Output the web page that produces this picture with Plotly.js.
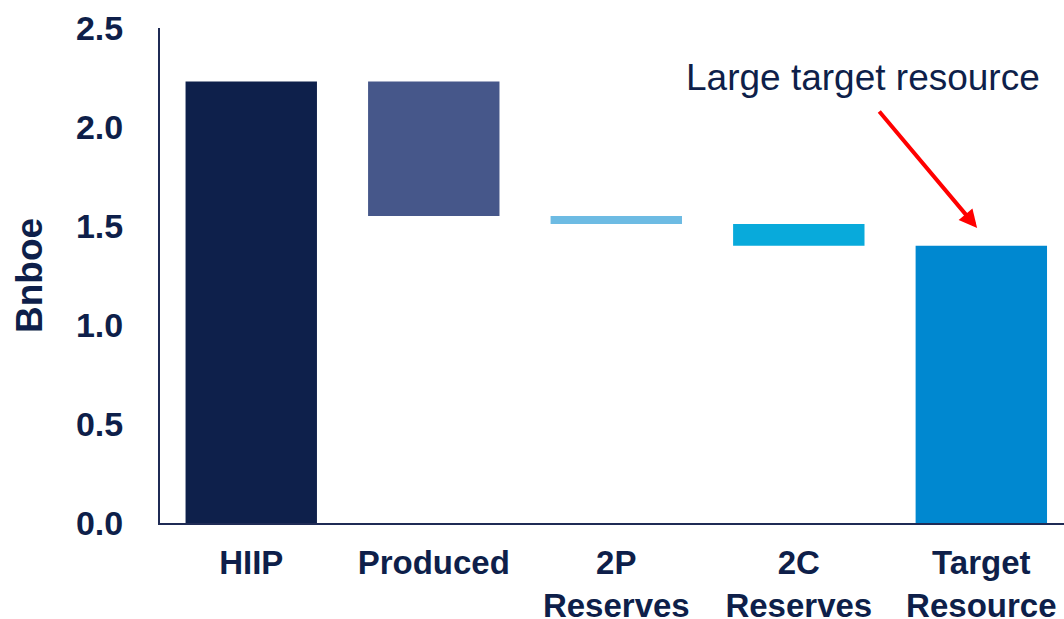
<!DOCTYPE html>
<html>
<head>
<meta charset="utf-8">
<script src="https://cdn.plot.ly/plotly-3.0.1.min.js"></script>
<style>html,body{margin:0;padding:0;background:#fff;}#chart{width:1064px;height:619px;}</style>
</head>
<body>
<div id="chart"></div>
<script>
const categories = ["HIIP", "Produced", "2P<br>Reserves", "2C<br>Reserves", "Target<br>Resource"];
const changes = [2.23, -0.68, -0.04, -0.11];
const totalValue = 1.40;
const barColors = ["#0E204B", "#46578A", "#6DBBE3", "#08AADB", "#0088D0"];

// build floating bars: first is a total, middle ones are decrements, last is a total
const bases = [];
const heights = [];
let running = 0;
changes.forEach((c, i) => {
  if (i === 0) { bases.push(0); heights.push(c); running = c; }
  else { const next = running + c; bases.push(next); heights.push(-c); running = next; }
});
bases.push(0); heights.push(totalValue);

const navy = "#0E1F4A";
const trace = {
  type: "bar",
  x: [0, 1, 2, 3, 4],
  y: heights,
  base: bases,
  width: 0.72,
  marker: { color: barColors },
  hoverinfo: "skip"
};

const layout = {
  width: 1064, height: 619,
  margin: { l: 160, r: 0, t: 28, b: 96 },
  paper_bgcolor: "#fff", plot_bgcolor: "#fff",
  showlegend: false,
  font: { family: "Liberation Sans, Arial, sans-serif", color: navy },
  xaxis: {
    range: [-0.5, 4.453],
    tickmode: "array", tickvals: [0, 1, 2, 3, 4], ticktext: categories,
    tickfont: { size: 33, color: navy, weight: "bold" },
    showline: true, linecolor: "#1F2B55", linewidth: 2,
    ticks: "outside", ticklen: 9, tickcolor: "rgba(0,0,0,0)",
    showgrid: false, zeroline: false, fixedrange: true
  },
  yaxis: {
    range: [0, 2.5], dtick: 0.5, tickformat: ".1f",
    tickfont: { size: 34, color: navy, weight: "bold" },
    showline: true, linecolor: "#1F2B55", linewidth: 2,
    ticks: "outside", ticklen: 28, tickcolor: "rgba(0,0,0,0)",
    showgrid: false, zeroline: false,
    title: { text: "Bnboe", font: { size: 37, color: navy, weight: "bold" }, standoff: 22 }
  },
  annotations: [
    { x: 3.977, y: 1.49, ax: 3.434, ay: 2.086, axref: "x", ayref: "y", xref: "x", yref: "y",
      showarrow: true, arrowhead: 2, arrowsize: 0.9, arrowwidth: 4, arrowcolor: "#FF0000", text: "" },
    { x: 0.778, y: 0.9, xref: "paper", yref: "paper", xanchor: "center", yanchor: "middle",
      text: "Large target resource", showarrow: false, font: { size: 37, color: navy } }
  ]
};

Plotly.newPlot("chart", [trace], layout, { displayModeBar: false, staticPlot: true });
</script>
</body>
</html>
